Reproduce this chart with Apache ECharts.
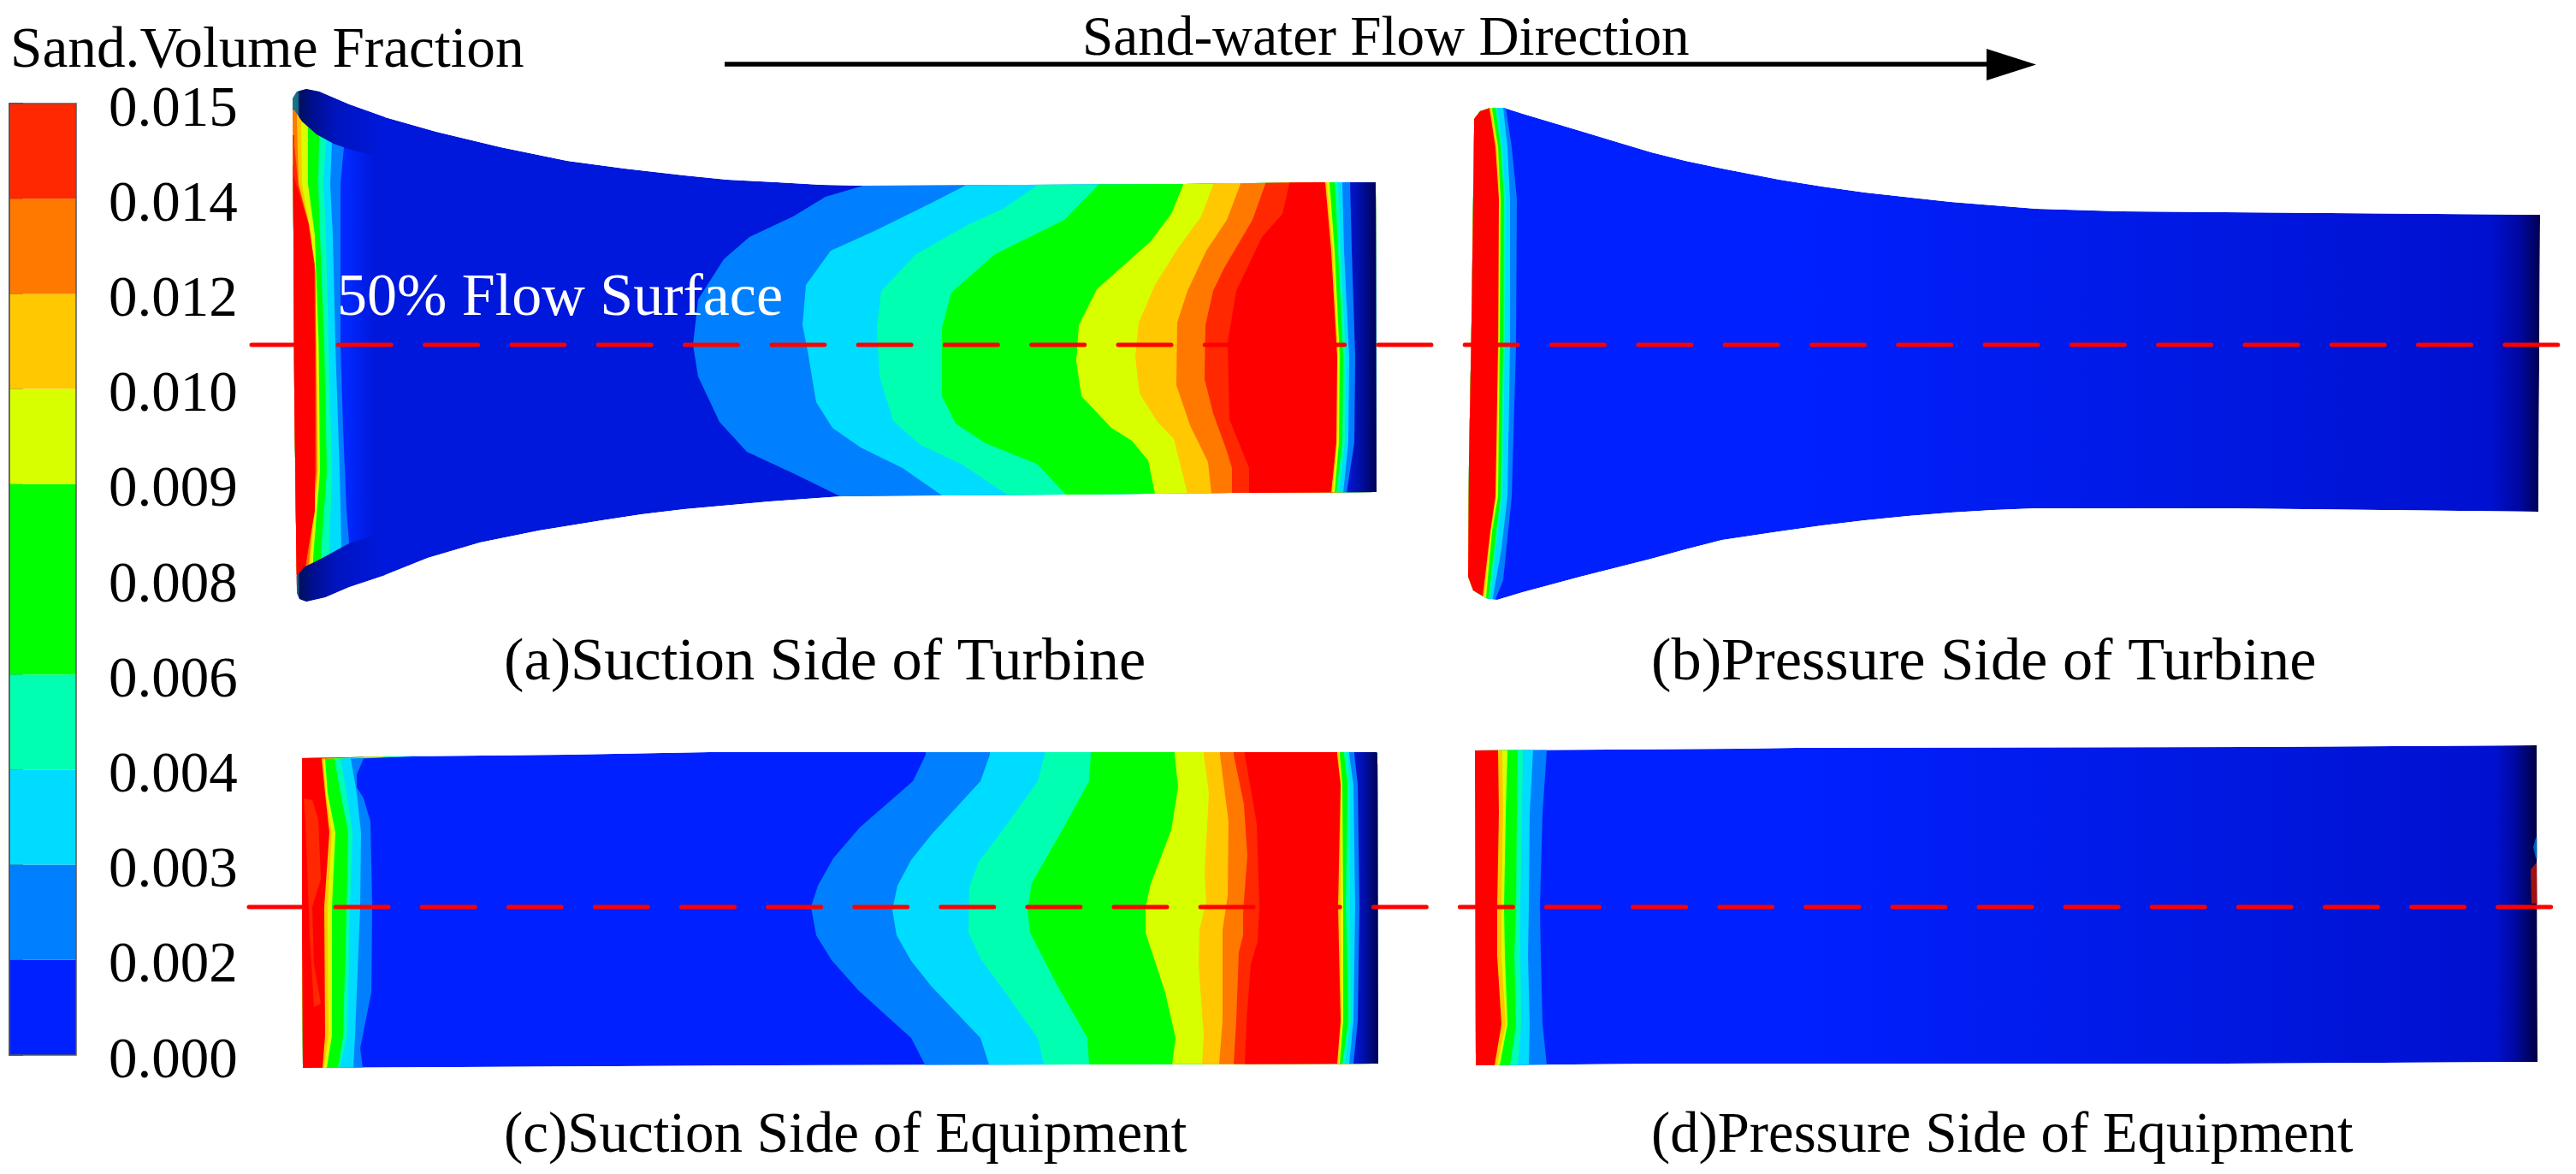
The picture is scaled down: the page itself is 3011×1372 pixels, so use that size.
<!DOCTYPE html>
<html><head><meta charset="utf-8">
<style>html,body{margin:0;padding:0;background:#fff}#c{width:3011px;height:1372px}</style>
<script src="https://cdn.jsdelivr.net/npm/echarts@6/dist/echarts.min.js"></script></head>
<body><div id="c"></div>
<script>
// ---- colour scale ----
const tickLabels = ['0.000','0.002','0.003','0.004','0.006','0.008','0.009','0.010','0.012','0.014','0.015'];
const bandColors = ['#0020ff','#0080ff','#00dcff','#00ffb0','#00ff00','#00ff00','#d8ff00','#ffc800','#ff7800','#ff2800'];
const LB='#0080ff',CY='#00dcff',TE='#00ffb0',GR='#00ff00',YE='#d8ff00',AM='#ffc800',OR='#ff7800',OD='#ff2800',RD='#ff0000';
const DARK='dark';

// ---- (a) suction side of turbine : [x, y] ----
const aOutline=[[342,115],[347,107],[358,104],[373,107],[408,122],[450,137],[510,154],[585,172],[663,188],[730,197],[800,205],[850,210],[908,213],[960,216],[1009,217],[1383,215],[1548,213],[1608,213],[1609,575],[1440,576],[1244,578],[1098,579],[984,580],[900,586],[800,595],[750,601],[704,608],[630,620],[561,634],[500,652],[450,672],[408,686],[380,698],[358,703],[350,700],[347,693],[346,617],[344,459],[343,275],[342,127]];
const aLeftColors=[LB,CY,TE,GR,YE,AM,OR,OD,RD];
const aLeftEdges=[
 [[402,172],[398,215],[398,403],[401,500],[405,597],[408,634]],
 [[388,167],[386,215],[389,275],[392,403],[397,551],[399,638]],
 [[381,163],[378,215],[381,275],[384,403],[388,551],[385,643]],
 [[373,158],[372,215],[374,275],[379,403],[382,551],[375,647]],
 [[360,150],[360,215],[368,275],[372.5,403],[374,551],[366,652]],
 [[352,140],[353,215],[364,275],[370,403],[372,551],[363,656]],
 [[347,140],[349,215],[361,262],[369,320],[369.5,403],[370.5,551],[361,659]],
 [[344,170],[349,218],[361,262],[368,310],[369,403],[369.5,551],[358,660]],
 [[343,205],[347,218],[360,260],[367,310],[368,403],[368,597],[357,661],[350,672]]
];
const contourColors=[LB,CY,TE,GR,YE,AM,OR,OD,RD,AM,YE,GR,TE,CY,LB,DARK];
const aRightEdges=[
 [[1009,217],[965,230],[927,253],[876,277],[846,303],[816,350],[810,403],[816,440],[841,493],[873,528],[927,553],[982,580]],
 [[1128,217],[1087,238],[1022,270],[971,293],[942,333],[938,380],[944,410],[954,470],[973,500],[1006,523],[1055,547],[1101,579]],
 [[1212,217],[1174,243],[1131,263],[1071,297],[1030,340],[1025,383],[1028,440],[1044,492],[1076,520],[1125,543],[1177,578]],
 [[1284,216],[1244,257],[1163,297],[1112,342],[1101,383],[1101,463],[1117,495],[1152,518],[1212,542],[1246,578]],
 [[1383,216],[1369,250],[1345,282],[1282,338],[1261,380],[1258,422],[1264,463],[1299,500],[1323,515],[1342,538],[1350,577]],
 [[1418,216],[1404,253],[1377,290],[1350,333],[1331,377],[1327,417],[1332,460],[1353,493],[1372,513],[1388,577]],
 [[1450,215],[1434,257],[1410,293],[1388,340],[1376,377],[1375,450],[1391,497],[1412,540],[1416,577]],
 [[1479,215],[1464,257],[1431,313],[1418,340],[1409,380],[1408,443],[1418,483],[1434,527],[1440,547],[1440,577]],
 [[1507,215],[1499,250],[1475,277],[1445,340],[1435,400],[1437,490],[1460,547],[1460,577]],
 [[1549,213],[1556,293],[1563,417],[1562,517],[1556,576]],
 [[1551,213],[1558,293],[1564,417],[1563,517],[1558,576]],
 [[1554,213],[1560,293],[1566,417],[1565,517],[1560,576]],
 [[1560,213],[1564,293],[1570,417],[1569,517],[1562,576]],
 [[1564,213],[1567,293],[1573,417],[1572,517],[1565,576]],
 [[1569,213],[1571,293],[1577,417],[1576,517],[1570,576]],
 [[1578,213],[1580,293],[1584,417],[1583,517],[1574,576]]
];
const aCapTop=[[338,127],[343,127],[353,142],[370,157],[390,168],[410,175],[430,180],[450,183],[450,130],[373,100],[347,100],[338,115]];
const aCapBottom=[[338,673],[347,673],[355,663],[375,653],[408,635],[430,628],[450,622],[450,710],[338,710]];

// ---- (b) pressure side of turbine ----
const bOutline=[[1723,139],[1730,130],[1742,126],[1758,126],[1780,133],[1847,153],[1890,166],[1930,178],[1970,188],[2013,197],[2080,210],[2130,218],[2180,225],[2280,236],[2380,244],[2480,247],[2600,248],[2969,251],[2967,598],[2600,594],[2480,594],[2380,594],[2330,596],[2280,599],[2230,603],[2180,608],[2130,614],[2080,621],[2013,631],[1970,642],[1930,653],[1847,674],[1780,692],[1750,701],[1737,699],[1722,690],[1716,674],[1717,539],[1720,376],[1723,151]];
const bLeftColors=[LB,CY,TE,GR,YE,AM,RD];
const bLeftEdges=[
 [[1760,126],[1767,172],[1773,233],[1772,404],[1767,580],[1757,678],[1748,700]],
 [[1757,126],[1762,172],[1765,233],[1765,404],[1762,580],[1755,641],[1745,698]],
 [[1750,126],[1756,172],[1760,233],[1759,404],[1756,580],[1750,629],[1742,698]],
 [[1748,126],[1754,172],[1758,233],[1757,404],[1754,580],[1748,629],[1740,698]],
 [[1744,127],[1751,172],[1754,233],[1753,404],[1751,580],[1744,621],[1737,698]],
 [[1743,127],[1750,172],[1753,233],[1752,404],[1749,580],[1743,621],[1735,698]],
 [[1741,127],[1748,172],[1752,233],[1751,404],[1748,580],[1742,621],[1733,698]]
];

// ---- (c) suction side of equipment ----
const cOutline=[[353,886],[463,884],[663,882],[830,879],[1608,879],[1610,880],[1611,1243],[900,1245],[354,1248],[353,1093]];
const cLeftColors=[LB,CY,TE,GR,YE,AM,RD];
const cLeftEdges=[
 [[503,883],[425,886.5],[417,905],[417,920],[425,933],[433,960],[435,1060],[434,1160],[423,1215],[421,1225],[424,1248]],
 [[485,884],[410,886.5],[417,927],[422,973],[421,1060],[415,1210],[413,1248]],
 [[475,884],[398,886.5],[405,927],[412,973],[409,1060],[406,1210],[397,1248]],
 [[465,884],[391,886.5],[398,927],[407,973],[405,1060],[401,1210],[395,1248]],
 [[448,885],[380,886.5],[383,927],[392,973],[388,1060],[388,1210],[382,1248]],
 [[440,885],[378,886.5],[381,927],[388,973],[383,1060],[384,1210],[379,1248]],
 [[425,885],[376,886.5],[380,927],[385,973],[379,1060],[380,1210],[377,1248]]
];
const cPatch=[[355,933],[365,935],[372,957],[375,1027],[365,1060],[367,1127],[375,1173],[367,1177],[362,1093],[357,960]];
const cRightEdges=[
 [[1082,882],[1067,913],[1005,967],[974,1003],[956,1035],[948,1060],[954,1093],[972,1122],[1003,1157],[1065,1213],[1081,1244]],
 [[1157,882],[1146,913],[1089,975],[1065,1005],[1049,1035],[1043,1063],[1048,1093],[1065,1123],[1089,1153],[1146,1213],[1156,1244]],
 [[1221,882],[1213,913],[1170,973],[1144,1007],[1133,1037],[1132,1090],[1146,1120],[1170,1153],[1213,1213],[1220,1244]],
 [[1275,882],[1273,913],[1240,973],[1206,1032],[1201,1063],[1204,1090],[1235,1150],[1271,1213],[1273,1244]],
 [[1373,882],[1377,920],[1369,970],[1345,1033],[1339,1060],[1339,1090],[1362,1160],[1374,1213],[1370,1244]],
 [[1407,882],[1413,927],[1408,1020],[1410,1053],[1402,1087],[1401,1127],[1407,1210],[1405,1244]],
 [[1426,882],[1436,960],[1435,1047],[1429,1087],[1429,1160],[1429,1193],[1425,1244]],
 [[1442,882],[1454,940],[1458,1000],[1453,1067],[1453,1093],[1448,1113],[1445,1193],[1442,1244]],
 [[1455,882],[1469,963],[1472,1060],[1470,1100],[1462,1127],[1457,1193],[1455,1244]],
 [[1563,882],[1567,917],[1564,1060],[1567,1193],[1563,1243]],
 [[1565,882],[1568,917],[1567,1060],[1568,1193],[1565,1243]],
 [[1566,882],[1569,917],[1570,1060],[1570,1193],[1566,1243]],
 [[1571,882],[1575,917],[1573,1060],[1576,1193],[1569,1243]],
 [[1575,882],[1578,917],[1578,1060],[1579,1193],[1572,1243]],
 [[1577,882],[1582,917],[1584,1060],[1582,1193],[1577,1243]],
 [[1583,882],[1587,917],[1589,1060],[1587,1193],[1582,1243]]
];

// ---- (d) pressure side of equipment ----
const dOutline=[[1724,877],[2033,875],[2100,874],[2630,873],[2965,871],[2966,1241],[2600,1243],[1950,1243],[1725,1245]];
const dLeftColors=[LB,CY,TE,GR,YE,AM,RD];
const dLeftEdges=[
 [[1808,877],[1803,950],[1800,1060],[1801,1117],[1803,1197],[1808,1245]],
 [[1792,877],[1788,950],[1787,1060],[1786,1117],[1788,1197],[1787,1245]],
 [[1780,877],[1779,950],[1777,1060],[1777,1117],[1778,1197],[1774,1245]],
 [[1774,877],[1773,950],[1772,1060],[1770,1117],[1772,1197],[1765,1245]],
 [[1762,877],[1760,950],[1758,1060],[1759,1117],[1762,1197],[1753,1245]],
 [[1756,877],[1757,950],[1755,1060],[1755,1117],[1760,1197],[1750,1245]],
 [[1751,877],[1752,950],[1750,1060],[1750,1117],[1755,1197],[1747,1245]]
];
const dPatchRed=[[2958,1016],[2965,1008],[2966,1056],[2959,1056]];
const dPatchBlue=[[2964,979],[2961,990],[2964,1003],[2966,1003],[2966,979]];

// ---- annotations ----
const flowLine=[[847,75],[2322,75]];
const flowHead=[[2322,57],[2380,75.5],[2322,94]];
const dashUpper=[[294,403],[2992,403]];
const dashLower=[[291,1060],[2986,1060]];
const captions=[
 ['Sand.Volume Fraction',12,67,67.3,'#000'],
 ['Sand-water Flow Direction',1265,53,65.2,'#000'],
 ['50% Flow Surface',394,357,70,'#fff'],
 ['(a)Suction Side of Turbine',589,783,70.4,'#000'],
 ['(b)Pressure Side of Turbine',1930,783,70.4,'#000'],
 ['(c)Suction Side of Equipment',589,1335,67,'#000'],
 ['(d)Pressure Side of Equipment',1930,1335,66.7,'#000']
];

const G=echarts.graphic.LinearGradient;
const grad=stops=>new G(0,0,1,0,stops.map(s=>({offset:s[0],color:s[1]})));
const baseA=grad([[0,'#0028ff'],[.05,'#0028ff'],[.075,'#0018dc'],[1,'#0018dc']]);
const baseB=grad([[0,'#0020ff'],[.3,'#0020ff'],[.705,'#0018e0'],[.953,'#0010d0'],[.981,'#0008a0'],[1,'#000050']]);
const baseC='#0020ff';
const baseD=grad([[0,'#0020ff'],[.3,'#0020ff'],[.705,'#0018e0'],[.96,'#0010d0'],[.979,'#0008a0'],[1,'#000040']]);
const darkFill=grad([[0,'#0018d8'],[.35,'#0010b0'],[1,'#000048']]);
const capFill=grad([[0,'#1a8a70'],[.09,'#1a6a8a'],[.11,'#001060'],[.25,'#000f90'],[.5,'#0014c0'],[1,'#0018dc']]);

function panel(outline,base,leftColors,leftEdges,rightEdges,xL,xR,extras){
  return {type:'custom',coordinateSystem:'cartesian2d',xAxisIndex:0,yAxisIndex:0,z:2,silent:true,data:[[0,0]],
    renderItem:(params,api)=>{
      const c=p=>api.coord(p);
      const poly=(pts,fill)=>({type:'polygon',shape:{points:pts.map(c)},style:{fill:fill,stroke:null}});
      const kids=[poly(outline,base)];
      const extend=e=>[[e[0][0],e[0][1]-12],...e,[e[e.length-1][0],e[e.length-1][1]+12]];
      (rightEdges||[]).forEach((e,i)=>{
        const x=extend(e);
        const col=contourColors[i]===DARK?darkFill:contourColors[i];
        kids.push(poly([...x,[xR,x[x.length-1][1]],[xR,x[0][1]]],col));
      });
      leftEdges.forEach((e,i)=>{
        const x=extend(e);
        kids.push(poly([...x,[xL,x[x.length-1][1]],[xL,x[0][1]]],leftColors[i]));
      });
      (extras||[]).forEach(p=>kids.push(poly(p[0],p[1])));
      return {type:'group',children:kids,clipPath:{type:'polygon',shape:{points:outline.map(c)}}};
    }};
}

const series=[
 panel(aOutline,baseA,aLeftColors,aLeftEdges,aRightEdges,330,1612,[[aCapTop,capFill],[aCapBottom,capFill]]),
 panel(bOutline,baseB,bLeftColors,bLeftEdges,null,1700,2980,null),
 panel(cOutline,baseC,cLeftColors,cLeftEdges,cRightEdges,340,1613,[[cPatch,OD]]),
 panel(dOutline,baseD,dLeftColors,dLeftEdges,null,1710,2975,[[dPatchBlue,'#0060c0'],[dPatchRed,'#a01010']]),
 {type:'line',xAxisIndex:0,yAxisIndex:0,z:4,silent:true,showSymbol:false,data:dashUpper,
  lineStyle:{color:'#ff0000',width:5,type:[62,39.3],cap:'round'}},
 {type:'line',xAxisIndex:0,yAxisIndex:0,z:4,silent:true,showSymbol:false,data:dashLower,
  lineStyle:{color:'#ff0000',width:5,type:[62,39.1],cap:'round'}},
 {type:'line',xAxisIndex:0,yAxisIndex:0,z:4,silent:true,showSymbol:false,data:flowLine,
  lineStyle:{color:'#000',width:5.5}},
 {type:'custom',coordinateSystem:'cartesian2d',xAxisIndex:0,yAxisIndex:0,z:4,silent:true,data:[[0,0]],
  renderItem:(p,api)=>({type:'polygon',shape:{points:flowHead.map(q=>api.coord(q))},style:{fill:'#000'}})},
 {type:'custom',coordinateSystem:'cartesian2d',xAxisIndex:1,yAxisIndex:1,z:3,silent:true,
  data:bandColors.map((col,i)=>[i,i+1]),
  renderItem:(p,api)=>{
    const a=api.coord([0,api.value(0)]),b=api.coord([1,api.value(1)]);
    return {type:'rect',shape:{x:a[0],y:b[1],width:b[0]-a[0],height:a[1]-b[1]},style:{fill:bandColors[p.dataIndex],stroke:null}};
  }},
 {type:'custom',coordinateSystem:'cartesian2d',xAxisIndex:1,yAxisIndex:1,z:3.5,silent:true,data:[[0,bandColors.length]],
  renderItem:(p,api)=>{
    const a=api.coord([0,0]),b=api.coord([1,api.value(1)]);
    return {type:'rect',shape:{x:a[0],y:b[1],width:b[0]-a[0],height:a[1]-b[1]},style:{fill:'none',stroke:'#5a5a5a',lineWidth:1.5}};
  }}
];

const chart=echarts.init(document.getElementById('c'),null,{renderer:'canvas',width:3011,height:1372});
chart.setOption({
 animation:false,backgroundColor:'#fff',
 grid:[{left:0,top:0,width:3011,height:1372,containLabel:false},{left:11,top:121,width:78,height:1112,containLabel:false}],
 xAxis:[{type:'value',gridIndex:0,min:0,max:3011,show:false},{type:'value',gridIndex:1,min:0,max:1,show:false}],
 yAxis:[{type:'value',gridIndex:0,min:0,max:1372,inverse:true,show:false},
  {type:'value',gridIndex:1,min:0,max:tickLabels.length-1,interval:1,position:'right',
   axisLine:{show:true,lineStyle:{color:'#444',width:2}},
   axisTick:{show:true,length:16,lineStyle:{color:'#555',width:2}},
   splitLine:{show:false},
   axisLabel:{show:true,margin:38,color:'#000',fontFamily:'Liberation Serif',fontSize:67,verticalAlign:'top',lineHeight:16,
     formatter:v=>tickLabels[Math.round(v)]}}],
 series:series,
 graphic:captions.map(t=>({type:'text',left:t[1],top:t[2]-t[3]*0.6,z:20,silent:true,
   style:{text:t[0],fill:t[4],font:t[3]+'px "Liberation Serif"'}}))
});
</script></body></html>
